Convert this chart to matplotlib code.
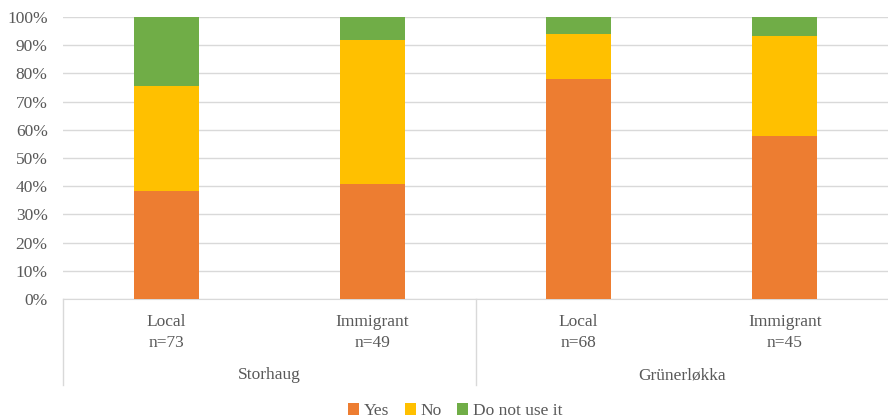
import matplotlib.pyplot as plt
import numpy as np

# Data (percent of respondents)
groups = ['Local\nn=73', 'Immigrant\nn=49', 'Local\nn=68', 'Immigrant\nn=45']
areas = ['Storhaug', 'Grünerløkka']
yes = [38.4, 40.8, 77.9, 57.8]
no = [37.0, 51.0, 16.2, 35.6]
not_used = [24.6, 8.2, 5.9, 6.6]

plt.rcParams['font.family'] = ['Liberation Serif', 'DejaVu Serif']
text_col = '#595959'
grid_col = '#d9d9d9'
fs = 12.5

fig = plt.figure(figsize=(8.88, 4.2), dpi=100)
ax = fig.add_axes([63 / 888, 1 - 299 / 420, 825 / 888, 282 / 420])

x = np.arange(len(groups))
w = 0.315
yes = np.array(yes)
no = np.array(no)
not_used = np.array(not_used)
ax.bar(x, yes, w, color='#ED7D31', label='Yes', zorder=3)
ax.bar(x, no, w, bottom=yes, color='#FFC000', label='No', zorder=3)
ax.bar(x, not_used, w, bottom=yes + no, color='#70AD47', label='Do not use it', zorder=3)

ax.set_xlim(-0.5, 3.5)
ax.set_ylim(0, 100)
ax.set_yticks(np.arange(0, 101, 10))
ax.set_yticklabels([f'{v}%' for v in range(0, 101, 10)])
ax.yaxis.grid(True, color=grid_col, linewidth=1)
ax.set_axisbelow(True)
for s in ['top', 'right', 'left']:
    ax.spines[s].set_visible(False)
ax.spines['bottom'].set_color(grid_col)
ax.tick_params(axis='y', length=0, labelsize=fs, colors=text_col, pad=11)
ax.set_xticks(x)
ax.set_xticklabels(groups, fontsize=fs, color=text_col, linespacing=1.4)
ax.tick_params(axis='x', length=0, pad=11)

# group labels and separators
trans = ax.get_xaxis_transform()
line_bottom = -(385 - 299) / 282
for xs in [-0.5, 1.5]:
    ax.plot([xs, xs], [0, line_bottom], color=grid_col, lw=1, transform=trans, clip_on=False)
for i, a in enumerate(areas):
    ax.text(2 * i + 0.5, -(375 - 299) / 282, a, transform=trans, ha='center', va='center',
            fontsize=fs, color=text_col)

fig.legend(loc='center', bbox_to_anchor=(455 / 888, 1 - 411 / 420), ncol=3, frameon=False,
           fontsize=fs, handlelength=0.65, handleheight=0.65, handletextpad=0.25,
           columnspacing=0.9, labelcolor=text_col)

fig.savefig('out.png', dpi=100)
